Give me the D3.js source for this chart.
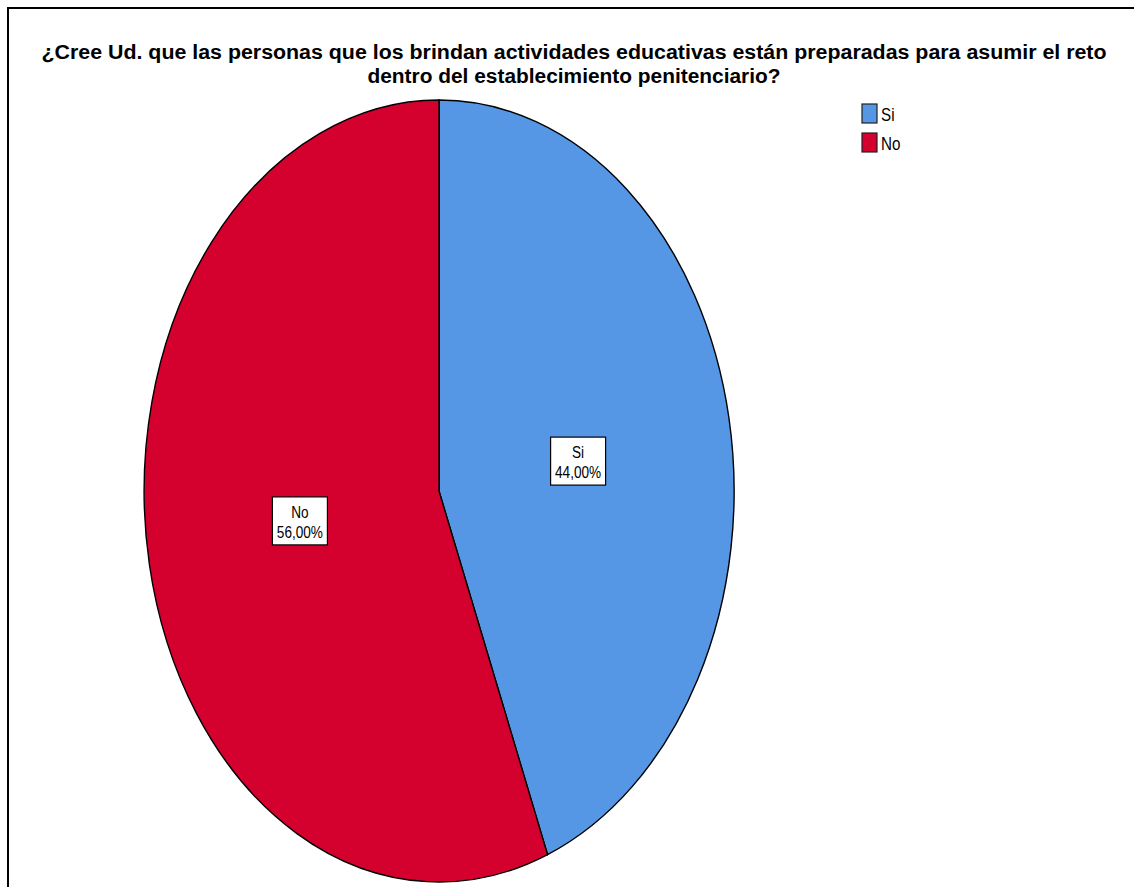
<!DOCTYPE html>
<html><head><meta charset="utf-8">
<script src="https://cdn.jsdelivr.net/npm/d3@7"></script>
<style>html,body{margin:0;background:#fff;overflow:hidden;}svg{display:block;}</style>
</head><body>
<svg id="chart" width="1134" height="887"></svg>
<script>
const categories = ["Si", "No"];
const values = [44, 56];
const labels = ["44,00%", "56,00%"];
const colors = ["#5596e5", "#d4002e"];
const titleLines = ["¿Cree Ud. que las personas que los brindan actividades educativas están preparadas para asumir el reto",
                    "dentro del establecimiento penitenciario?"];

const svg = d3.select("#chart");
const font = "'Liberation Sans',Arial,sans-serif";

// frame
svg.append("rect").attr("x", 8).attr("y", 8).attr("width", 1300).attr("height", 1000)
  .attr("fill", "none").attr("stroke", "#000").attr("stroke-width", 2);

// title
const titleWidths = [1065, 413];
svg.selectAll("text.title").data(titleLines).join("text")
  .attr("class", "title")
  .attr("x", 574).attr("y", (d, i) => 59 + i * 24)
  .attr("text-anchor", "middle")
  .attr("font-family", font)
  .attr("font-weight", "bold").attr("font-size", 20)
  .attr("textLength", (d, i) => titleWidths[i])
  .attr("lengthAdjust", "spacingAndGlyphs")
  .text(d => d);

// pie (elliptical)
const cx = 439, cy = 491, rx = 295, ry = 391;
const pie = d3.pie().sort(null).value(d => d.value);
const data = categories.map((c, i) => ({ cat: c, value: values[i], label: labels[i], color: colors[i] }));
const arcs = pie(data);
const arc = d3.arc().innerRadius(0).outerRadius(1);

const g = svg.append("g").attr("transform", `translate(${cx},${cy}) scale(${rx},${ry})`);
g.selectAll("path").data(arcs).join("path")
  .attr("d", arc)
  .attr("fill", d => d.data.color)
  .attr("stroke", "#000").attr("stroke-width", 1.4)
  .attr("vector-effect", "non-scaling-stroke");

// labels
const labelArc = d3.arc().innerRadius(0).outerRadius(0.96);
const lg = svg.append("g");
arcs.forEach(a => {
  const [ux, uy] = labelArc.centroid(a);
  const x = cx + ux * rx, y = cy + uy * ry * 0.85;
  const bw = 55, bh = 48;
  const gg = lg.append("g").attr("transform", `translate(${x},${y})`);
  gg.append("rect").attr("x", -bw / 2).attr("y", -bh / 2).attr("width", bw).attr("height", bh)
    .attr("fill", "#fff").attr("stroke", "#000").attr("stroke-width", 1.2);
  const t = gg.append("g").attr("transform", "scale(0.8,1)");
  t.append("text").attr("text-anchor", "middle").attr("y", -3)
    .attr("font-family", font).attr("font-size", 17).text(a.data.cat);
  t.append("text").attr("text-anchor", "middle").attr("y", 17)
    .attr("font-family", font).attr("font-size", 17).text(a.data.label);
});

// legend
const leg = svg.append("g").attr("transform", "translate(862,104)");
const li = leg.selectAll("g").data(data).join("g").attr("transform", (d, i) => `translate(0,${i * 29})`);
li.append("rect").attr("width", 15).attr("height", 19)
  .attr("fill", d => d.color).attr("stroke", "#222").attr("stroke-width", 1.2);
li.append("text").attr("transform", "translate(19,17) scale(0.8,1)")
  .attr("font-family", font).attr("font-size", 19).text(d => d.cat);
</script>
</body></html>
